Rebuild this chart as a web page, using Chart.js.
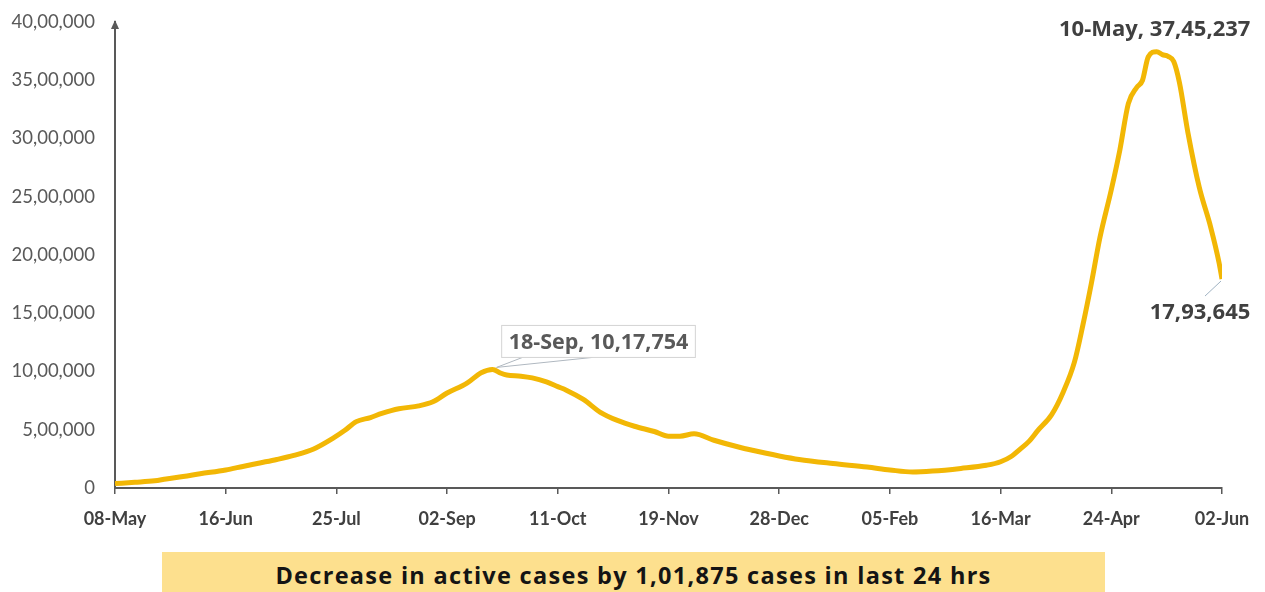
<!DOCTYPE html>
<html>
<head>
<meta charset="utf-8">
<script src="https://cdn.jsdelivr.net/npm/chart.js@4"></script>
<style>
  body { margin: 0; background: #fff; }
  #wrap { position: relative; width: 1265px; height: 545px; }
  .banner {
    position: absolute; left: 162px; top: 552px; width: 943px; height: 40px;
    background: #FDE08E; color: #141414; text-align: center;
    font: bold 23.5px "Open Sans", sans-serif; letter-spacing: 1.3px; line-height: 46px;
  }
</style>
</head>
<body>
<div id="wrap"><canvas id="activeChart" width="1265" height="545"></canvas></div>
<div class="banner">Decrease in active cases by 1,01,875 cases in last 24 hrs</div>
<script>
// days since 08-May-2020
const days = [0, 7, 14, 18, 24, 30, 39, 45, 51, 57, 63, 70, 77, 81, 85, 90, 94, 100, 107, 112,
  117, 124, 129, 133, 136, 138, 143, 147, 152, 156, 159, 165, 171, 177, 183, 190, 195, 199, 204,
  211, 220, 229, 234, 241, 253, 265, 273, 281, 288, 298, 307, 312, 316, 319, 322, 325, 330, 334,
  338, 341, 344, 347, 351, 354, 357, 360, 362, 364, 367, 369, 371, 373, 375, 378, 382, 386, 389, 390];
const activeCases = [38000, 49000, 62000, 78000, 98000, 122000, 155000, 185000, 215000, 245000,
  280000, 335000, 430000, 495000, 570000, 605000, 640000, 680000, 705000, 740000,
  815000, 900000, 990000, 1017754, 985000, 970000, 960000, 945000, 910000, 870000, 840000, 760000,
  650000, 580000, 530000, 485000, 445000, 445000, 465000,
  410000, 350000, 300000, 275000, 245000, 210000, 180000, 155000, 137000, 145000, 168000, 195000,
  225000, 275000, 335000, 400000, 490000, 630000, 820000,
  1080000, 1400000, 1760000, 2150000, 2560000, 2900000, 3300000, 3440000, 3500000, 3700000, 3745237,
  3720000, 3705000, 3660000, 3480000, 3050000, 2580000, 2240000, 1930000, 1793645];

const xTickLabels = ['08-May', '16-Jun', '25-Jul', '02-Sep', '11-Oct', '19-Nov', '28-Dec', '05-Feb', '16-Mar', '24-Apr', '02-Jun'];
const yTickLabels = ['0', '5,00,000', '10,00,000', '15,00,000', '20,00,000', '25,00,000', '30,00,000', '35,00,000', '40,00,000'];

// callouts: index into data and label text
const callouts = [
  { idx: 23, text: '18-Sep, 10,17,754', boxed: true },
  { idx: 68, text: '10-May, 37,45,237' },
  { idx: days.length - 1, text: '17,93,645' }
];

const axisGrey = '#595959';

const calloutPlugin = {
  id: 'callouts',
  afterDatasetsDraw(chart) {
    const ctx = chart.ctx;
    const xs = chart.scales.x, ys = chart.scales.y;
    ctx.save();

    // arrow on top of y axis
    const ax = xs.left, ay = ys.top;
    ctx.fillStyle = axisGrey;
    ctx.beginPath();
    ctx.moveTo(ax, ay - 2);
    ctx.lineTo(ax - 4, ay + 7);
    ctx.lineTo(ax + 4, ay + 7);
    ctx.closePath();
    ctx.fill();

    ctx.textAlign = 'center';
    ctx.textBaseline = 'middle';

    callouts.forEach(c => {
      const px = xs.getPixelForValue(days[c.idx]);
      const py = ys.getPixelForValue(activeCases[c.idx]);
      if (c.boxed) {
        ctx.font = 'bold 21.5px "Open Sans", sans-serif';
        const cx = px + 106, cy = py - 28;
        const w = ctx.measureText(c.text).width + 14;
        ctx.strokeStyle = '#b0b8c0';
        ctx.lineWidth = 1;
        ctx.beginPath();
        ctx.moveTo(px + 4, py - 2);
        ctx.lineTo(px + 30, cy + 16);
        ctx.moveTo(px + 4, py - 2);
        ctx.lineTo(px + 100, cy + 16);
        ctx.stroke();
        ctx.fillStyle = '#fff';
        ctx.fillRect(cx - w / 2, cy - 16, w, 32);
        ctx.strokeStyle = '#d4d4d4';
        ctx.strokeRect(cx - w / 2, cy - 16, w, 32);
        ctx.fillStyle = axisGrey;
        ctx.fillText(c.text, cx, cy + 1);
      } else if (c.idx === days.length - 1) {
        ctx.font = 'bold 22px "Open Sans", sans-serif';
        ctx.strokeStyle = '#9fb2c2';
        ctx.lineWidth = 1;
        ctx.beginPath();
        ctx.moveTo(px - 1, py + 2);
        ctx.lineTo(px - 17, py + 17);
        ctx.stroke();
        ctx.fillStyle = '#404040';
        ctx.fillText(c.text, px - 22, py + 34);
      } else {
        ctx.font = 'bold 22px "Open Sans", sans-serif';
        ctx.fillStyle = '#404040';
        ctx.fillText(c.text, px - 2, py - 22);
      }
    });
    ctx.restore();
  }
};

const ctx = document.getElementById('activeChart').getContext('2d');
const activeChart = new Chart(ctx, {
  type: 'line',
  data: {
    datasets: [{
      label: 'Active cases',
      data: days.map((d, i) => ({ x: d, y: activeCases[i] })),
      borderColor: '#F2B705',
      borderWidth: 5,
      pointRadius: 0,
      cubicInterpolationMode: 'monotone',
      fill: false
    }]
  },
  options: {
    responsive: false,
    animation: false,
    layout: { padding: { top: 22, right: 43, left: 0, bottom: 0 } },
    plugins: {
      legend: { display: false },
      tooltip: { enabled: false }
    },
    scales: {
      x: {
        type: 'linear',
        min: 0,
        max: 390,
        afterFit(scale) { scale.height = 57; },
        afterBuildTicks(scale) {
          scale.ticks = xTickLabels.map((_, i) => ({ value: i * 39 }));
        },
        ticks: {
          autoSkip: false,
          maxRotation: 0,
          padding: 14,
          color: '#404040',
          font: { family: 'Lato', size: 18, weight: 'bold' },
          callback: (v) => xTickLabels[Math.round(v / 39)]
        },
        grid: { display: true, drawOnChartArea: false, drawTicks: true, tickLength: 6, color: axisGrey, lineWidth: 1.5 },
        border: { display: true, color: axisGrey, width: 2 }
      },
      y: {
        min: 0,
        max: 4000000,
        afterFit(scale) { scale.width = 115; },
        afterBuildTicks(scale) {
          scale.ticks = yTickLabels.map((_, i) => ({ value: i * 500000 }));
        },
        ticks: {
          padding: 0,
          color: axisGrey,
          font: { family: 'Lato', size: 18.5 },
          callback: (v) => yTickLabels[Math.round(v / 500000)]
        },
        // hidden grid, tick length only spaces the labels from the axis
        grid: { display: false, drawTicks: true, tickLength: 20 },
        border: { display: true, color: axisGrey, width: 2 }
      }
    }
  },
  plugins: [calloutPlugin]
});
</script>
</body>
</html>
